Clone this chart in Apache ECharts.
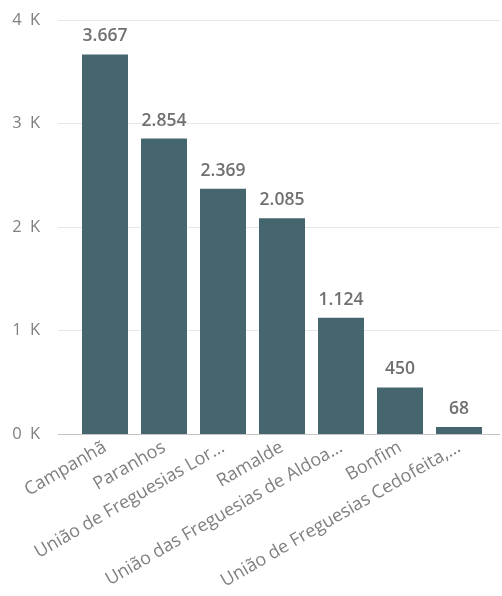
<!DOCTYPE html>
<html>
<head>
<meta charset="utf-8">
<script src="https://cdn.jsdelivr.net/npm/echarts@6/dist/echarts.min.js"></script>
<style>
  html, body { margin: 0; padding: 0; background: #fff; }
  #chart { width: 502px; height: 596px; }
</style>
</head>
<body>
<div id="chart"></div>
<script>
  // categories as shown (Power BI truncates the long ones)
  var categories = ['Campanhã', 'Paranhos', 'União de Freguesias Lor…', 'Ramalde',
    'União das Freguesias de Aldoa…', 'Bonfim', 'União de Freguesias Cedofeita,…']
  var values = [3667, 2854, 2369, 2085, 1124, 450, 68]
  var yTicks = [0, 1000, 2000, 3000, 4000]

  var fontFam = '"Open Sans", "Noto Sans", sans-serif'
  var txtColor = '#808080'

  function fmtPt (v) {
    return String(v).replace(/\B(?=(\d{3})+(?!\d))/g, '.')
  }

  var chart = echarts.init(document.getElementById('chart'))
  var option = {
    animation: false,
    grid: [
      // background grid: gridlines + y labels, spans full width
      { left: 58, right: 2, top: 20, height: 414 },
      // bars
      { left: 75.5, right: 13.5, top: 20, height: 414 },
    ],
    xAxis: [
      { gridIndex: 0, type: 'category', data: categories, show: false },
      {
        gridIndex: 1,
        type: 'category',
        data: categories,
        axisLine: { show: false },
        axisTick: { show: false },
        axisLabel: {
          rotate: 30,
          interval: 0,
          margin: 12,
          color: txtColor,
          fontSize: 18,
          fontFamily: fontFam,
        },
      },
    ],
    yAxis: [
      {
        gridIndex: 0,
        type: 'value',
        min: yTicks[0],
        max: yTicks[yTicks.length - 1],
        interval: 1000,
        axisLine: { show: false },
        axisTick: { show: false },
        axisLabel: {
          margin: 18,
          color: txtColor,
          fontSize: 16.5,
          fontFamily: fontFam,
          formatter: function (v) { return (v / 1000) + '\u2002K' },
        },
        splitLine: {
          lineStyle: { color: ['#c4c4c4', '#e8e8e8', '#e8e8e8', '#e8e8e8', '#e8e8e8'], width: 1 },
        },
      },
      {
        gridIndex: 1,
        type: 'value',
        min: yTicks[0],
        max: yTicks[yTicks.length - 1],
        show: false,
        splitLine: { show: false },
      },
    ],
    series: [
      {
        type: 'bar',
        xAxisIndex: 1,
        yAxisIndex: 1,
        data: values,
        barWidth: 46,
        itemStyle: { color: '#45666f' },
        label: {
          show: true,
          position: 'top',
          distance: 9,
          color: '#707070',
          fontSize: 17.5,
          fontWeight: 600,
          fontFamily: fontFam,
          formatter: function (p) { return fmtPt(p.value) },
        },
      },
    ],
  }
  chart.setOption(option)
</script>
</body>
</html>
